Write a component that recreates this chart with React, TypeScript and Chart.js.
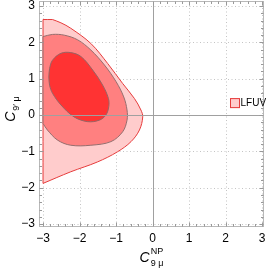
import { useEffect, useRef } from 'react';
import { Chart, registerables } from 'chart.js';

Chart.register(...registerables);

const tickValues = [-3, -2, -1, 0, 1, 2, 3];
const tickLabels = ['−3', '−2', '−1', '0', '1', '2', '3'];
const legendLabel = 'LFUV';

// outer (lightest) region boundary
const outerX = [-3, -3, -3, -2.74, -2.74, -2.51, -2.24, -1.69, -1.23, -0.82, -0.5, -0.32, -0.27, -0.36, -0.59, -0.96, -1.51, -2.24, -3];
const outerY = [-1.88, 2.63, 2.63, 2.63, 2.63, 2.54, 2.39, 1.97, 1.42, 0.87, 0.46, 0.14, -0.05, -0.41, -0.73, -1.01, -1.29, -1.56, -1.88];

// middle region boundary
const middleX = [-3, -3, -3, -2.74, -2.42, -2.05, -1.69, -1.32, -1.0, -0.79, -0.7, -0.7, -0.82, -1.14, -1.69, -2.24, -2.6, -2.88, -3];
const middleY = [-0.23, 2.16, 2.16, 2.22, 2.2, 2.07, 1.79, 1.38, 0.92, 0.5, 0.14, -0.14, -0.46, -0.73, -0.83, -0.83, -0.69, -0.41, -0.23];

// inner (darkest) region boundary
const innerX = [-2.84, -2.82, -2.74, -2.51, -2.24, -1.96, -1.64, -1.37, -1.21, -1.2, -1.28, -1.46, -1.78, -2.15, -2.51, -2.74, -2.82, -2.84];
const innerY = [1.05, 1.28, 1.51, 1.7, 1.72, 1.61, 1.24, 0.83, 0.46, 0.23, 0.0, -0.14, -0.18, -0.05, 0.28, 0.6, 0.82, 1.05];

const zip = (xs: number[], ys: number[]) => xs.map((x, i) => ({ x, y: ys[i] }));

const FONT = '"Liberation Sans", Arial, sans-serif';

const decorPlugin = {
  id: 'decor',
  beforeDatasetsDraw(chart: any) {
    const { ctx, chartArea: a, scales } = chart;
    const sx = scales.x, sy = scales.y;
    ctx.save();
    ctx.strokeStyle = '#c4c4c4';
    ctx.lineWidth = 1;
    ctx.setLineDash([1, 2.5]);
    for (const v of tickValues) {
      if (v === 0) continue;
      const px = Math.round(sx.getPixelForValue(v)) + 0.5;
      ctx.beginPath(); ctx.moveTo(px, a.top); ctx.lineTo(px, a.bottom); ctx.stroke();
      const py = Math.round(sy.getPixelForValue(v)) + 0.5;
      ctx.beginPath(); ctx.moveTo(a.left, py); ctx.lineTo(a.right, py); ctx.stroke();
    }
    ctx.restore();
  },
  afterDatasetsDraw(chart: any) {
    const { ctx, chartArea: a, scales } = chart;
    const sx = scales.x, sy = scales.y;
    ctx.save();
    // zero axes
    ctx.strokeStyle = '#a0a0a0';
    ctx.lineWidth = 1;
    const x0 = Math.round(sx.getPixelForValue(0)) + 0.5;
    const y0 = Math.round(sy.getPixelForValue(0)) + 0.5;
    ctx.beginPath(); ctx.moveTo(x0, a.top); ctx.lineTo(x0, a.bottom); ctx.stroke();
    ctx.beginPath(); ctx.moveTo(a.left, y0); ctx.lineTo(a.right, y0); ctx.stroke();
    // frame
    ctx.strokeStyle = '#b8b8b8';
    const L = Math.round(a.left) + 0.5, R = Math.round(a.right) - 0.5;
    const T = Math.round(a.top) + 0.5, B = Math.round(a.bottom) - 0.5;
    ctx.strokeRect(L, T, R - L, B - T);
    // frame ticks
    ctx.strokeStyle = '#999999';
    for (let k = -15; k <= 15; k++) {
      const v = k / 5;
      const major = k % 5 === 0;
      const len = major ? 4 : 2.5;
      const px = Math.round(sx.getPixelForValue(v)) + 0.5;
      if (px > L && px < R) {
        ctx.beginPath(); ctx.moveTo(px, B); ctx.lineTo(px, B - len); ctx.stroke();
        ctx.beginPath(); ctx.moveTo(px, T); ctx.lineTo(px, T + len); ctx.stroke();
      }
      const py = Math.round(sy.getPixelForValue(v)) + 0.5;
      if (py > T && py < B) {
        ctx.beginPath(); ctx.moveTo(L, py); ctx.lineTo(L + len, py); ctx.stroke();
        ctx.beginPath(); ctx.moveTo(R, py); ctx.lineTo(R - len, py); ctx.stroke();
      }
    }
    ctx.restore();
  },
  afterDraw(chart: any) {
    const { ctx, chartArea: a, scales } = chart;
    const sy = scales.y;
    ctx.save();
    // legend
    const ly = sy.getPixelForValue(0.33);
    const bx = a.right - 34;
    ctx.fillStyle = 'rgb(255,204,204)';
    ctx.strokeStyle = 'rgb(230,60,60)';
    ctx.lineWidth = 1;
    ctx.fillRect(bx, ly - 5, 10, 10);
    ctx.strokeRect(bx + 0.5, ly - 4.5, 9, 9);
    ctx.fillStyle = '#000';
    ctx.font = `10px ${FONT}`;
    ctx.textBaseline = 'middle';
    ctx.textAlign = 'left';
    ctx.fillText(legendLabel, bx + 10.5, ly + 0.5);

    // axis titles
    const drawTitle = (sub: string, sup: string | null) => {
      ctx.textBaseline = 'alphabetic';
      ctx.textAlign = 'left';
      ctx.font = `italic 14px ${FONT}`;
      const wC = ctx.measureText('C').width;
      ctx.font = `9px ${FONT}`;
      const wSub = ctx.measureText(sub).width;
      const wSup = sup ? ctx.measureText(sup).width : 0;
      const total = wC + 1 + Math.max(wSub, wSup);
      let x = -total / 2;
      ctx.font = `italic 14px ${FONT}`;
      ctx.fillText('C', x, 0);
      x += wC + 1;
      ctx.font = `9px ${FONT}`;
      ctx.fillText(sub, x, 4);
      if (sup) ctx.fillText(sup, x, -8);
    };
    ctx.fillStyle = '#000';
    ctx.save();
    ctx.translate((a.left + a.right) / 2, 262);
    drawTitle('9 μ', 'NP');
    ctx.restore();
    ctx.save();
    ctx.translate(15, sy.getPixelForValue(0) - 6);
    ctx.rotate(-Math.PI / 2);
    drawTitle('9′ μ', null);
    ctx.restore();
    ctx.restore();
  },
};

export default function App() {
  const ref = useRef<HTMLCanvasElement | null>(null);
  useEffect(() => {
    if (!ref.current) return;
    const tickFont = { family: FONT, size: 12 };
    const labelFor = (v: any) => {
      const i = tickValues.indexOf(Number(v));
      return i >= 0 ? tickLabels[i] : '';
    };
    const chart = new Chart(ref.current, {
      type: 'scatter',
      data: {
        datasets: [
          {
            data: zip(outerX, outerY),
            showLine: true,
            pointRadius: 0,
            fill: 'shape',
            tension: 0.35,
            backgroundColor: 'rgb(255,204,204)',
            borderColor: 'rgb(230,60,60)',
            borderWidth: 1,
            order: 3,
          },
          {
            data: zip(middleX, middleY),
            showLine: true,
            pointRadius: 0,
            fill: 'shape',
            tension: 0.35,
            backgroundColor: 'rgb(255,128,128)',
            borderColor: 'rgb(150,110,110)',
            borderWidth: 1,
            order: 2,
          },
          {
            data: zip(innerX, innerY),
            showLine: true,
            pointRadius: 0,
            fill: 'shape',
            tension: 0.35,
            backgroundColor: 'rgb(255,51,51)',
            borderColor: 'rgb(150,100,100)',
            borderWidth: 1,
            order: 1,
          },
        ] as any,
      },
      options: {
        animation: false,
        responsive: false,
        events: [],
        layout: { padding: { top: 1, right: 2, left: 0, bottom: 0 } },
        plugins: { legend: { display: false }, tooltip: { enabled: false } },
        scales: {
          x: {
            type: 'linear',
            min: -3.11,
            max: 3.05,
            afterBuildTicks: (s: any) => { s.ticks = tickValues.map((value) => ({ value })); },
            afterFit: (s: any) => { s.height = 43; s.paddingLeft = 0; s.paddingRight = 0; s.paddingTop = 0; s.paddingBottom = 0; },
            grid: { display: false, drawTicks: false },
            border: { display: false },
            ticks: { font: tickFont, color: '#000', padding: 4, maxRotation: 0, autoSkip: false, callback: labelFor },
          },
          y: {
            type: 'linear',
            min: -3.08,
            max: 3.14,
            afterBuildTicks: (s: any) => { s.ticks = tickValues.map((value) => ({ value })); },
            afterFit: (s: any) => { s.width = 39; s.paddingLeft = 0; s.paddingRight = 0; s.paddingTop = 0; s.paddingBottom = 0; },
            grid: { display: false, drawTicks: false },
            border: { display: false },
            ticks: { font: tickFont, color: '#000', padding: 4, autoSkip: false, callback: labelFor },
          },
        },
      } as any,
      plugins: [decorPlugin],
    });
    return () => chart.destroy();
  }, []);
  return (
    <div style={{ position: 'fixed', left: 0, top: 0, width: 266, height: 270, background: '#fff' }}>
      <canvas ref={ref} width={266} height={270} style={{ width: 266, height: 270, display: 'block' }} />
    </div>
  );
}
